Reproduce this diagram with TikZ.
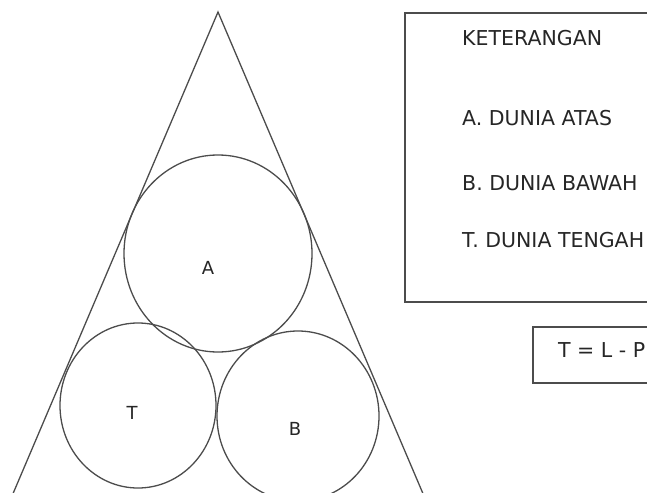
\documentclass[tikz,border=0pt]{standalone}
\usepackage{fontspec}
\setmainfont{DejaVu Sans}
\usetikzlibrary{shapes.geometric}
\begin{document}
\begin{tikzpicture}[x=1pt,y=-1pt,
  ln/.style={draw=black!70,line width=1.3pt},
  ring/.style={ln,ellipse,inner sep=0pt},
  lbl/.style={text=black!85,font=\fontsize{18}{21}\selectfont,inner sep=0pt},
  key/.style={text=black!85,font=\fontsize{20.5}{24}\selectfont,inner sep=0pt,anchor=west}]
\useasboundingbox (0,0) rectangle (647,492);
\clip (0,0) rectangle (647,492);
\coordinate (apex) at (218,12);
\coordinate (bl) at (12,496);
\coordinate (br) at (424,496);
\draw[ln] (bl) -- (apex) -- (br);
\node[ring,minimum width=188pt,minimum height=197pt] (A) at (218,253.5) {};
\node[ring,minimum width=156pt,minimum height=165pt] (T) at (138,405.5) {};
\node[ring,minimum width=162pt,minimum height=170pt] (B) at (298,416) {};
\node[lbl] (la) at (208,268) {A};
\node[lbl] (lt) at (132,413) {T};
\node[lbl] (lb) at (295,429) {B};
\draw[ln] (660,13) -- (405,13) -- (405,302) -- (660,302);
\node[key] (k0) at (462,38) {KETERANGAN};
\node[key] (k1) at (462,118) {A. DUNIA ATAS};
\node[key] (k2) at (462,183) {B. DUNIA BAWAH};
\node[key] (k3) at (462,240) {T. DUNIA TENGAH};
\draw[ln] (660,327) -- (533,327) -- (533,383) -- (660,383);
\node[key] (eq) at (558,350) {T = L - P};
\end{tikzpicture}
\end{document}
